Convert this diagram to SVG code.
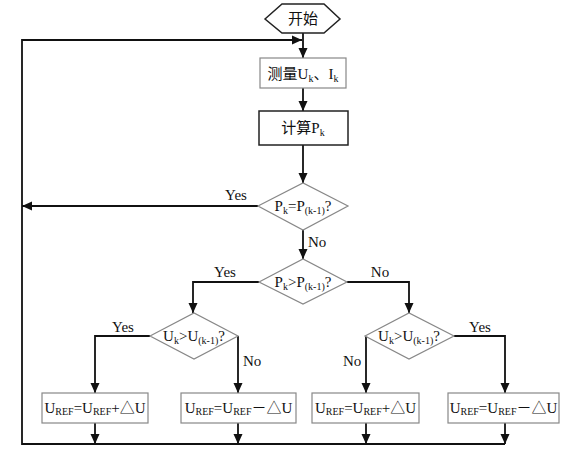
<svg xmlns="http://www.w3.org/2000/svg" width="570" height="451" viewBox="0 0 570 451">
<style>
text{font-family:"Liberation Serif","Noto Sans CJK SC",serif;font-size:15px;fill:#111}
.c{text-anchor:middle}
.sub{font-size:10px}
.box{fill:#fff;stroke:#888;stroke-width:1.2}
.box2{fill:#fff;stroke:#222;stroke-width:1.5}
.dia{fill:#fff;stroke:#888;stroke-width:1.2}
.ln{fill:none;stroke:#111;stroke-width:1.8}
.arr{fill:none;stroke:#111;stroke-width:1.8;marker-end:url(#ah)}
</style>
<defs>
<marker id="ah" markerUnits="userSpaceOnUse" markerWidth="10" markerHeight="10" viewBox="0 0 10 10" refX="10" refY="5" orient="auto">
<path d="M0,0.5 L10,5 L0,9.5 Z" fill="#111"/>
</marker>
</defs>
<rect width="570" height="451" fill="#fff"/>
<g id="connectors">
<path class="arr" d="M303,33 V58"/>
<path class="arr" d="M303,88 V111"/>
<path class="arr" d="M303,145 V183"/>
<path class="arr" d="M258,206 H22"/>
<path class="arr" d="M303,230 V259"/>
<path class="arr" d="M259,282 H193 V313"/>
<path class="arr" d="M347,282 H409 V313"/>
<path class="arr" d="M150,336 H95 V393"/>
<path class="arr" d="M238,336 V393"/>
<path class="arr" d="M366,336 V393"/>
<path class="arr" d="M454,336 H505 V393"/>
<path class="arr" d="M95,423 V444"/>
<path class="arr" d="M238,423 V444"/>
<path class="arr" d="M366,423 V444"/>
<path class="arr" d="M505,423 V444"/>
<path class="arr" d="M505,444 H22 V40 H302"/>
<text class="c" x="236" y="200">Yes</text>
<text x="308" y="247">No</text>
<text class="c" x="225" y="277">Yes</text>
<text class="c" x="380" y="277">No</text>
<text class="c" x="123" y="332">Yes</text>
<text x="243" y="366">No</text>
<text x="343" y="366">No</text>
<text class="c" x="480" y="332">Yes</text>
</g>
<g id="start">
<polygon points="265,19 282,4 324,4 340,19 324,33 282,33" fill="#fff" stroke="#222" stroke-width="1.5"/>
<text class="c" x="303" y="24">开始</text>
</g>
<g id="measure">
<rect class="box" x="260" y="58" width="86" height="30"/>
<text class="c" x="303" y="79">测量U<tspan class="sub" dy="3">k</tspan><tspan dy="-3">、I</tspan><tspan class="sub" dy="3">k</tspan></text>
</g>
<g id="calc">
<rect class="box2" x="259" y="111" width="89" height="34"/>
<text class="c" x="303" y="133">计算P<tspan class="sub" dy="3">k</tspan></text>
</g>
<g id="dec1">
<polygon class="dia" points="258,206 303,183 348,206 303,230"/>
<text class="c" x="303" y="211">P<tspan class="sub" dy="3">k</tspan><tspan dy="-3">=P</tspan><tspan class="sub" dy="3">(k-1)</tspan><tspan dy="-3">?</tspan></text>
</g>
<g id="dec2">
<polygon class="dia" points="259,282 303,259 347,282 303,304"/>
<text class="c" x="303" y="287">P<tspan class="sub" dy="3">k</tspan><tspan dy="-3">&gt;P</tspan><tspan class="sub" dy="3">(k-1)</tspan><tspan dy="-3">?</tspan></text>
</g>
<g id="dec3">
<polygon class="dia" points="150,336 194,313 238,336 194,359"/>
<text class="c" x="194" y="341">U<tspan class="sub" dy="3">k</tspan><tspan dy="-3">&gt;U</tspan><tspan class="sub" dy="3">(k-1)</tspan><tspan dy="-3">?</tspan></text>
</g>
<g id="dec4">
<polygon class="dia" points="365,336 409,313 454,336 409,359"/>
<text class="c" x="409" y="341">U<tspan class="sub" dy="3">k</tspan><tspan dy="-3">&gt;U</tspan><tspan class="sub" dy="3">(k-1)</tspan><tspan dy="-3">?</tspan></text>
</g>
<g id="box1">
<rect class="box" x="42" y="393" width="106" height="30"/>
<text class="c" x="95" y="413">U<tspan class="sub" dy="2">REF</tspan><tspan dy="-2">=U</tspan><tspan class="sub" dy="2">REF</tspan><tspan dy="-2">+△U</tspan></text>
</g>
<g id="box2">
<rect class="box" x="181" y="393" width="115" height="30"/>
<text class="c" x="238.5" y="413">U<tspan class="sub" dy="2">REF</tspan><tspan dy="-2">=U</tspan><tspan class="sub" dy="2">REF</tspan><tspan dy="-2">－△U</tspan></text>
</g>
<g id="box3">
<rect class="box" x="312" y="393" width="107" height="30"/>
<text class="c" x="365.5" y="413">U<tspan class="sub" dy="2">REF</tspan><tspan dy="-2">=U</tspan><tspan class="sub" dy="2">REF</tspan><tspan dy="-2">+△U</tspan></text>
</g>
<g id="box4">
<rect class="box" x="448" y="393" width="111" height="30"/>
<text class="c" x="503.5" y="413">U<tspan class="sub" dy="2">REF</tspan><tspan dy="-2">=U</tspan><tspan class="sub" dy="2">REF</tspan><tspan dy="-2">－△U</tspan></text>
</g>
</svg>
